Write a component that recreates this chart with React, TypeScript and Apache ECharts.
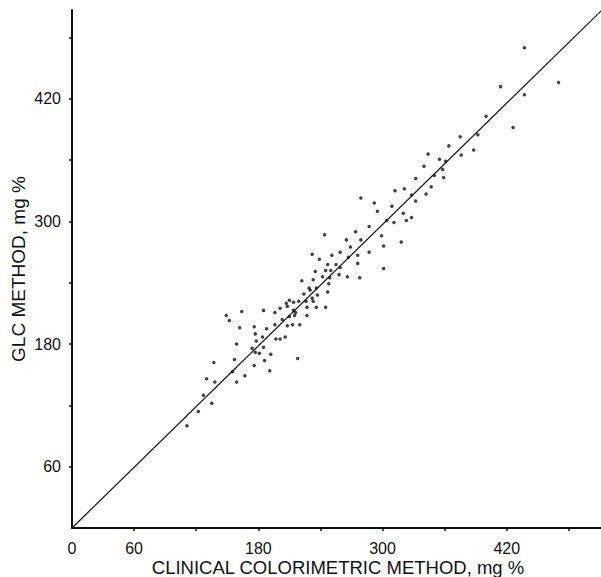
import React, { useEffect, useRef } from "react";
import * as echarts from "echarts";

// Clinical colorimetric method values (mg %)
const clinical = [
  437, 470, 414, 437, 400, 426, 375, 392, 364, 388,
  344, 376, 355, 361, 340, 358, 332, 350, 359, 321,
  312, 347, 328, 342, 332, 279, 292, 309, 295, 320,
  328, 311, 323, 304, 287, 274, 299, 244, 265, 279,
  269, 301, 318, 232, 251, 259, 276, 287, 239, 267,
  276, 278, 247, 255, 235, 245, 250, 259, 266, 258,
  242, 249, 222, 233, 248, 229, 230, 236, 224, 237,
  247, 232, 219, 210, 214, 207, 226, 233, 227, 236,
  245, 214, 208, 185, 201, 196, 216, 227, 210, 203,
  215, 164, 149, 152, 196, 208, 213, 220, 162, 176,
  188, 177, 184, 197, 201, 206, 178, 159, 185, 174,
  177, 181, 192, 218, 157, 137, 186, 176, 191, 155,
  167, 130, 138, 159, 127, 135, 122, 111, 301,
];

// GLC method values (mg %)
const glc = [
  470, 436, 432, 424, 403, 392, 383, 385, 374, 370,
  366, 365, 361, 359, 354, 351, 342, 345, 343, 332,
  330, 334, 326, 327, 320, 323, 318, 315, 310, 308,
  304, 299, 301, 301, 295, 290, 286, 287, 282, 282,
  275, 276, 280, 268, 267, 270, 267, 270, 263, 265,
  259, 245, 258, 258, 251, 252, 252, 255, 246, 248,
  246, 245, 242, 243, 239, 235, 233, 235, 229, 228,
  231, 225, 222, 223, 221, 220, 222, 222, 216, 216,
  216, 213, 217, 213, 215, 211, 211, 208, 207, 204,
  208, 212, 208, 203, 199, 198, 199, 199, 196, 197,
  195, 190, 187, 185, 185, 187, 183, 180, 177, 176,
  172, 171, 170, 166, 165, 162, 164, 159, 154, 153,
  149, 146, 143, 143, 130, 122, 114, 100, 254,
];

// Fitted line (identity-like)
const fitX = [0, 512];
const fitY = [0, 507];

const xTicks = [60, 120, 180, 240, 300, 360, 420, 480];
const xLabels = [0, 60, 180, 300, 420];
const yTicks = [60, 120, 180, 240, 300, 360, 420, 480];
const yLabels = [60, 180, 300, 420];

const xName = "CLINICAL COLORIMETRIC METHOD, mg %";
const yName = "GLC METHOD, mg %";

export default function App() {
  const ref = useRef<HTMLDivElement>(null);
  useEffect(() => {
    if (!ref.current) return;
    const chart = echarts.init(ref.current, null, { renderer: "svg" });
    const font = "'Liberation Sans', Arial, Helvetica, sans-serif";
    const ink = "#111";
    chart.setOption({
      animation: false,
      backgroundColor: "#fff",
      grid: { left: 72, right: 0, top: 10, bottom: 49, containLabel: false },
      xAxis: {
        type: "value",
        min: 0,
        max: 511,
        splitLine: { show: false },
        axisLine: { show: true, onZero: false, lineStyle: { color: ink, width: 2 } },
        axisTick: {
          show: true,
          customValues: xTicks,
          length: 3,
          lineStyle: { color: ink, width: 1.5 },
        },
        axisLabel: {
          customValues: xLabels,
          fontSize: 16,
          lineHeight: 16,
          color: ink,
          fontFamily: font,
          margin: 12,
        },
      },
      yAxis: {
        type: "value",
        min: 0,
        max: 507,
        splitLine: { show: false },
        axisLine: { show: true, onZero: false, lineStyle: { color: ink, width: 2 } },
        axisTick: {
          show: true,
          customValues: yTicks,
          length: 3,
          lineStyle: { color: ink, width: 1.5 },
        },
        axisLabel: {
          customValues: yLabels,
          fontSize: 16,
          color: ink,
          fontFamily: font,
          margin: 11,
        },
      },
      graphic: [
        {
          type: "text",
          x: 338,
          y: 567,
          style: {
            text: xName,
            fontSize: 18.5,
            lineHeight: 18,
            fontFamily: font,
            fill: ink,
            align: "center",
            verticalAlign: "middle",
          },
        },
        {
          type: "text",
          x: 18,
          y: 269,
          rotation: Math.PI / 2,
          style: {
            text: yName,
            fontSize: 19,
            fontFamily: font,
            fill: ink,
            align: "center",
            verticalAlign: "middle",
          },
        },
      ],
      series: [
        {
          type: "line",
          data: fitX.map((x, i) => [x, fitY[i]]),
          showSymbol: false,
          symbol: "none",
          lineStyle: { color: ink, width: 1.2 },
          clip: true,
          silent: true,
        },
        {
          type: "scatter",
          data: clinical.map((x, i) => [x, glc[i]]),
          symbol: "circle",
          symbolSize: 3.5,
          itemStyle: { color: ink },
          silent: true,
        },
      ],
    });
    return () => chart.dispose();
  }, []);
  return (
    <div
      ref={ref}
      style={{ position: "fixed", left: 0, top: 0, width: 601, height: 577, background: "#fff" }}
    />
  );
}
